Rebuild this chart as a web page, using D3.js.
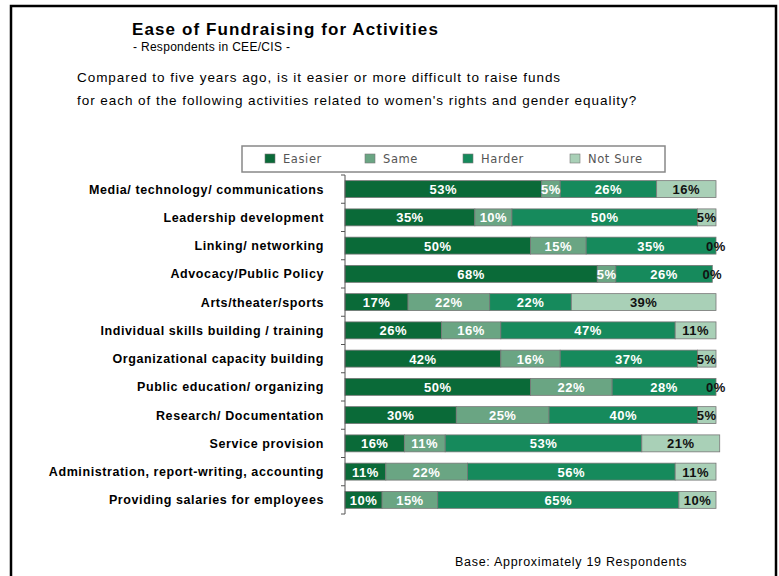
<!DOCTYPE html>
<html>
<head>
<meta charset="utf-8">
<script src="https://cdn.jsdelivr.net/npm/d3@7"></script>
<style>
  body { margin: 0; background: #fff; }
  text { font-family: "Liberation Sans", Arial, sans-serif; }
</style>
</head>
<body>
<svg width="779" height="576"></svg>
<script>
var svg = d3.select("svg"),
    width = +svg.attr("width"),
    height = +svg.attr("height");

// data
var categories = [
  "Media/ technology/ communications",
  "Leadership development",
  "Linking/ networking",
  "Advocacy/Public Policy",
  "Arts/theater/sports",
  "Individual skills building / training",
  "Organizational capacity building",
  "Public education/ organizing",
  "Research/ Documentation",
  "Service provision",
  "Administration, report-writing, accounting",
  "Providing salaries for employees"
];
var seriesNames = ["Easier", "Same", "Harder", "Not Sure"];
var easier  = [53, 35, 50, 68, 17, 26, 42, 50, 30, 16, 11, 10];
var same    = [5, 10, 15, 5, 22, 16, 16, 22, 25, 11, 22, 15];
var harder  = [26, 50, 35, 26, 22, 47, 37, 28, 40, 53, 56, 65];
var notSure = [16, 5, 0, 0, 39, 11, 5, 0, 5, 21, 11, 10];

var colors = ["#0a6a38", "#6aa583", "#168a5c", "#a9d0b7"];
var labelColors = ["#fff", "#fff", "#fff", "#111"];

// frame
svg.append("rect")
    .attr("x", 11).attr("y", 6)
    .attr("width", 765).attr("height", 600)
    .attr("fill", "none")
    .attr("stroke", "#000")
    .attr("stroke-width", 2.5);

// titles
svg.append("text").attr("x", 132).attr("y", 35)
    .attr("font-size", 17).attr("font-weight", "bold")
    .attr("letter-spacing", 1.1)
    .text("Ease of Fundraising for Activities");
svg.append("text").attr("x", 133).attr("y", 51)
    .attr("font-size", 12)
    .attr("letter-spacing", 0.3)
    .text("- Respondents in CEE/CIS -");
svg.append("text").attr("x", 77).attr("y", 82)
    .attr("font-size", 13.5)
    .attr("letter-spacing", 0.95)
    .text("Compared to five years ago, is it easier or more difficult to raise funds");
svg.append("text").attr("x", 77).attr("y", 105)
    .attr("font-size", 13.5)
    .attr("letter-spacing", 0.95)
    .text("for each of the following activities related to women's rights and gender equality?");

// legend
var legend = svg.append("g");
legend.append("rect")
    .attr("x", 242).attr("y", 146)
    .attr("width", 423).attr("height", 26)
    .attr("fill", "#fff")
    .attr("stroke", "#888")
    .attr("stroke-width", 1.5);
var legendX = [265, 365, 463, 570];
seriesNames.forEach(function(name, i) {
  legend.append("rect")
      .attr("x", legendX[i]).attr("y", 154)
      .attr("width", 10).attr("height", 9)
      .attr("fill", colors[i])
      .attr("stroke", "#777").attr("stroke-width", 0.6);
  legend.append("text")
      .attr("x", legendX[i] + 18).attr("y", 163)
      .attr("font-size", 11.5)
      .attr("letter-spacing", 0.6)
      .attr("fill", "#555")
      .style("font-family", "'DejaVu Sans', sans-serif")
      .text(name);
});

// scales
var x = d3.scaleLinear().domain([0, 100]).range([345, 716]);
var y = d3.scaleBand().domain(categories).range([175, 514]).padding(0.4).paddingOuter(0.2);

var rows = categories.map(function(c, i) {
  var vals = [easier[i], same[i], harder[i], notSure[i]];
  var start = 0;
  return {
    cat: c,
    segs: vals.map(function(v, k) {
      var s = { key: k, x0: start, x1: start + v, v: v };
      start += v;
      return s;
    })
  };
});

var row = svg.append("g").selectAll("g")
  .data(rows)
  .enter().append("g")
    .attr("transform", function(d) { return "translate(0," + y(d.cat) + ")"; });

row.selectAll("rect")
  .data(function(d) { return d.segs.filter(function(s) { return s.v > 0; }); })
  .enter().append("rect")
    .attr("x", function(d) { return x(d.x0); })
    .attr("width", function(d) { return x(d.x1) - x(d.x0); })
    .attr("height", y.bandwidth())
    .attr("fill", function(d) { return colors[d.key]; })
    .attr("stroke", "#777")
    .attr("stroke-width", 0.8);

row.selectAll("text.val")
  .data(function(d) { return d.segs; })
  .enter().append("text")
    .attr("class", "val")
    .attr("x", function(d) { return x((d.x0 + d.x1) / 2); })
    .attr("y", y.bandwidth() / 2 + 5)
    .attr("text-anchor", "middle")
    .attr("font-size", 13)
    .attr("font-weight", "bold")
    .attr("letter-spacing", 0.5)
    .attr("fill", function(d) { return labelColors[d.key]; })
    .text(function(d) { return d.v + "%"; });

// category labels
svg.append("g").selectAll("text")
  .data(categories)
  .enter().append("text")
    .attr("x", 324)
    .attr("y", function(d) { return y(d) + y.bandwidth() / 2 + 4.5; })
    .attr("text-anchor", "end")
    .attr("font-size", 12.5)
    .attr("font-weight", "bold")
    .attr("letter-spacing", 0.6)
    .text(function(d) { return d; });

// axis line with ticks between rows
var axis = svg.append("g").attr("stroke", "#555").attr("stroke-width", 1);
axis.append("line")
    .attr("x1", 345).attr("x2", 345)
    .attr("y1", 175).attr("y2", 514);
axis.selectAll("line.tick")
  .data(d3.range(categories.length + 1))
  .enter().append("line")
    .attr("class", "tick")
    .attr("x1", 341).attr("x2", 345)
    .attr("y1", function(i) { return 175 + i * y.step(); })
    .attr("y2", function(i) { return 175 + i * y.step(); });

// footer
svg.append("text").attr("x", 455).attr("y", 566)
    .attr("font-size", 12.5)
    .attr("letter-spacing", 0.7)
    .text("Base: Approximately 19 Respondents");
</script>
</body>
</html>
